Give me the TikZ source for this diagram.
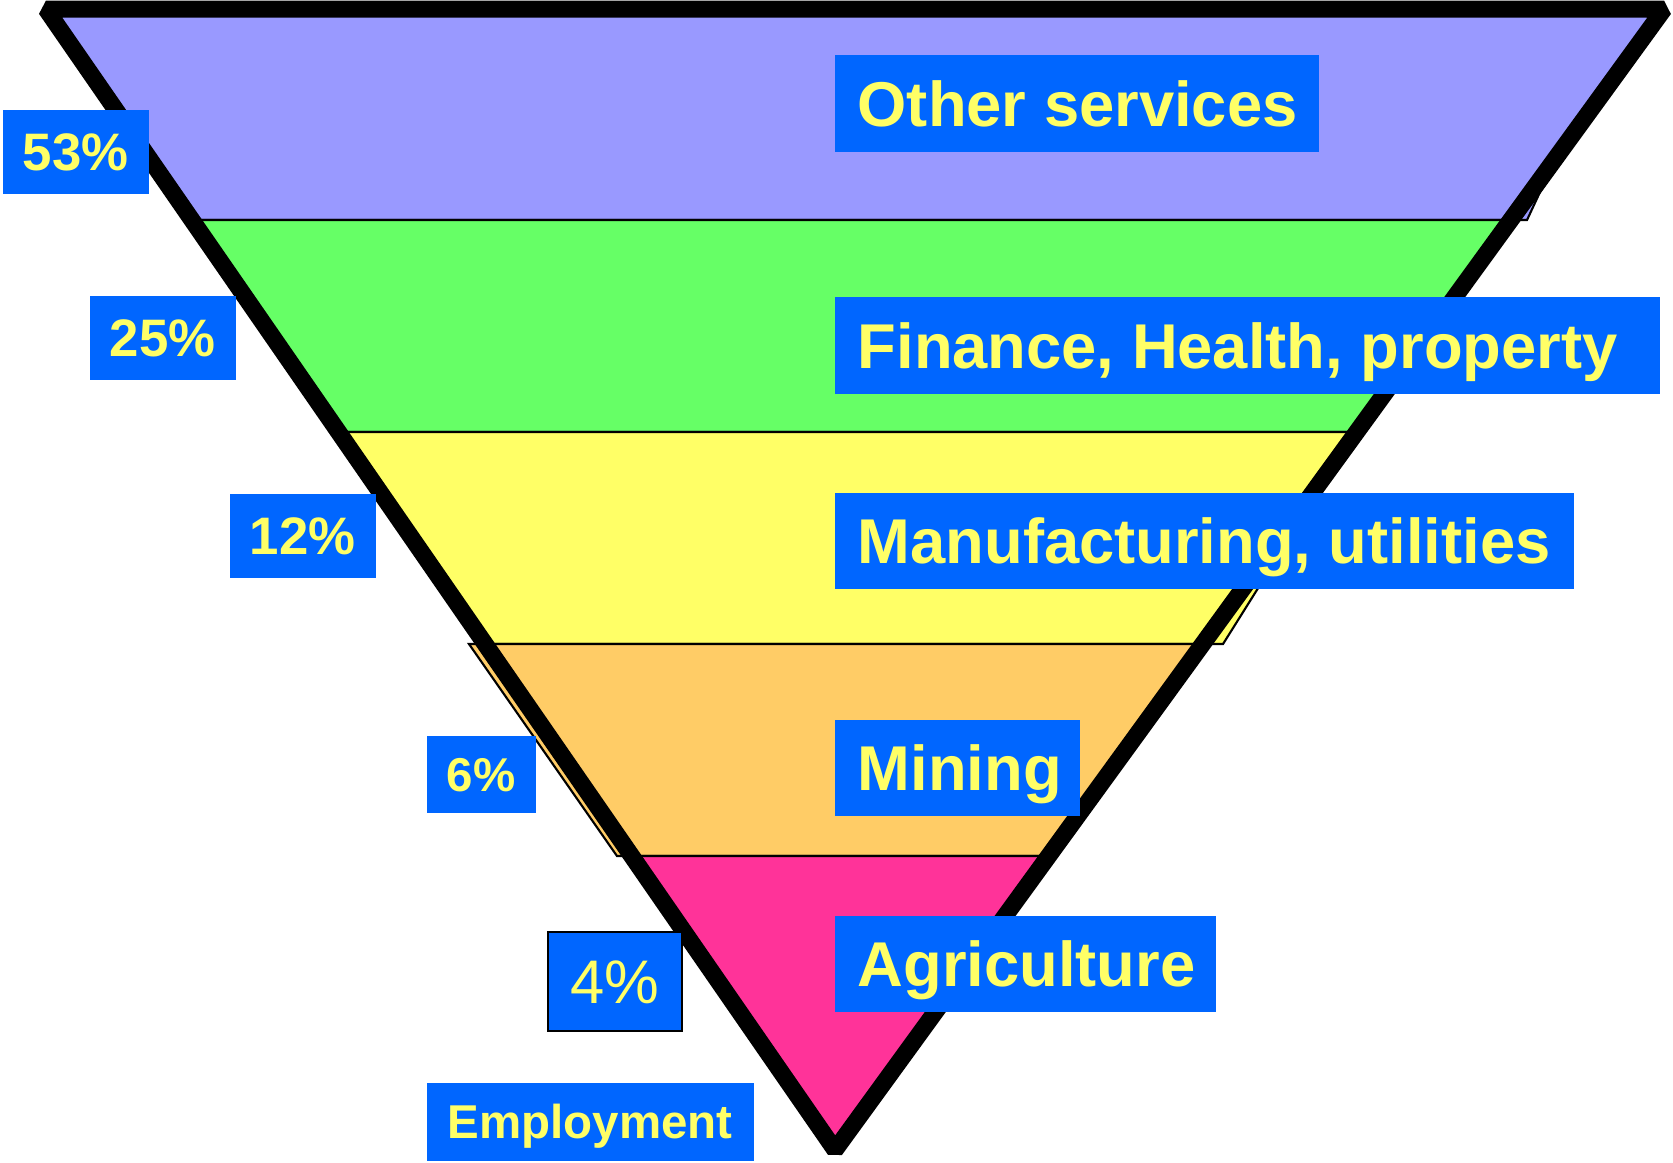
\documentclass[tikz,border=0pt]{standalone}
\usepackage{fontspec}
\setmainfont{Liberation Sans}
\definecolor{cpurple}{HTML}{9999FF}
\definecolor{cgreen}{HTML}{66FF66}
\definecolor{cyellow}{HTML}{FFFF66}
\definecolor{corange}{HTML}{FFCC66}
\definecolor{cpink}{HTML}{FF3399}
\definecolor{cblue}{HTML}{0066FF}
\definecolor{ctext}{HTML}{FFFF66}
\begin{document}
\begin{tikzpicture}[x=0.01cm,y=-0.01cm,
  band/.style={draw=black, line width=0.6pt},
  lbl/.style={fill=cblue, text=ctext, font=\bfseries\fontsize{18}{20}\selectfont, inner sep=0pt, anchor=north west, text height=13pt, text depth=0pt},
  pct/.style={fill=cblue, text=ctext, font=\bfseries\fontsize{15}{17}\selectfont, inner sep=0pt, anchor=north west, text height=10.8pt, text depth=0pt},
  small/.style={fill=cblue, text=ctext, font=\bfseries\fontsize{13.5}{15}\selectfont, inner sep=0pt, anchor=north west, text height=9.7pt, text depth=0pt}]
\useasboundingbox (0,0) rectangle (1673,1162);
% bands
\fill[cpurple, band] (46,9) -- (1664,9) -- (1540,192) -- (1527,220) -- (192,220) -- cycle;
\fill[cgreen, band] (192,220) -- (1511,220) -- (1356,432) -- (338,432) -- cycle;
\fill[cyellow, band] (338,432) -- (1356,432) -- (1223,644) -- (485,644) -- cycle;
\fill[corange, band] (469,644) -- (1202,644) -- (1048,856) -- (617,856) -- cycle;
\fill[cpink, band] (632,856) -- (1048,856) -- (835,1150) -- cycle;
% outline
\draw[line width=0.17cm, line join=bevel] (46,9) -- (1664,9) -- (835,1150) -- cycle;
% labels
\node[lbl, minimum width=4.84cm, minimum height=0.97cm] (other) at (834,54) {\makebox[4.84cm][l]{\hspace{0.23cm}Other services}};
\node[lbl, minimum width=8.25cm, minimum height=0.97cm] (finance) at (834,296) {\makebox[8.25cm][l]{\hspace{0.23cm}Finance, Health, property}};
\node[lbl, minimum width=7.39cm, minimum height=0.96cm] (manuf) at (834,492) {\makebox[7.39cm][l]{\hspace{0.23cm}Manufacturing, utilities}};
\node[lbl, minimum width=2.45cm, minimum height=0.96cm] (mining) at (834,719) {\makebox[2.45cm][l]{\hspace{0.23cm}Mining}};
\node[lbl, minimum width=3.81cm, minimum height=0.96cm] (agri) at (834,915) {\makebox[3.81cm][l]{\hspace{0.23cm}Agriculture}};
\node[pct, minimum width=1.46cm, minimum height=0.84cm] (p53) at (2,109) {53\%};
\node[pct, minimum width=1.46cm, minimum height=0.84cm] (p25) at (89,295) {25\%};
\node[pct, minimum width=1.46cm, minimum height=0.84cm] (p12) at (229,493) {12\%};
\node[small, minimum width=1.09cm, minimum height=0.77cm] (p6) at (426,735) {6\%};
\node[fill=cblue, draw=black, line width=0.45pt, text=ctext, font=\fontsize{17.5}{19}\selectfont, inner sep=0pt, anchor=north west, text height=12.6pt, text depth=0pt, minimum width=1.34cm, minimum height=0.99cm] (p4) at (547,931) {4\%};
\node[small, minimum width=3.27cm, minimum height=0.78cm] (emp) at (426,1082) {Employment};
\end{tikzpicture}
\end{document}
